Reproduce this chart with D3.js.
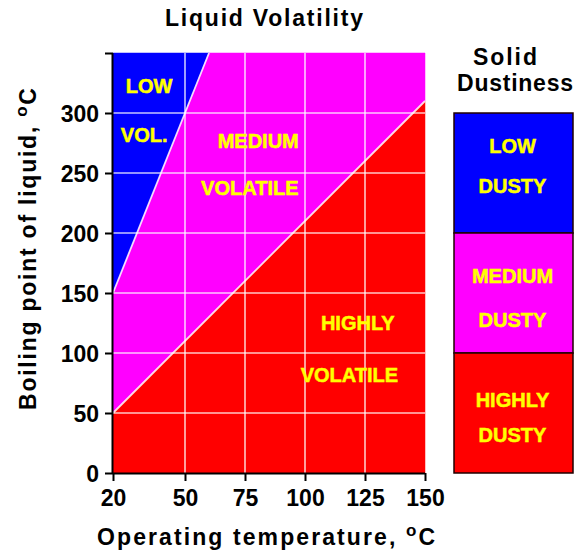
<!DOCTYPE html>
<html>
<head>
<meta charset="utf-8">
<script src="https://cdn.jsdelivr.net/npm/d3@7"></script>
<style>
  html, body { margin: 0; padding: 0; background: #ffffff; }
  svg { display: block; }
  text { font-family: "Liberation Sans", Arial, sans-serif; font-weight: bold; }
</style>
</head>
<body>
<svg id="chart" width="575" height="557"></svg>
<script>
// ---------- data ----------
const xTicks = [20, 50, 75, 100, 125, 150];
const yTicks = [0, 50, 100, 150, 200, 250, 300];
const yExtraTick = [350];
const xGrid = [50, 75, 100, 125];
const yGrid = [50, 100, 150, 200, 250, 300];
const lowMedBoundary = [[20, 150], [60, 350]];     // LOW VOL. / MEDIUM
const medHighBoundary = [[20, 50], [150, 310]];    // MEDIUM / HIGHLY
const volatilityLabels = [
  { text: "LOW", t: 35, bp: 317 },
  { text: "VOL.", t: 33, bp: 276 },
  { text: "MEDIUM", t: 80.5, bp: 271 },
  { text: "VOLATILE", t: 77, bp: 232 },
  { text: "HIGHLY", t: 122, bp: 119 },
  { text: "VOLATILE", t: 118.5, bp: 76 }
];
const dustBands = [
  { name: "LOW", from: 200, to: 300 },
  { name: "MEDIUM", from: 100, to: 200 },
  { name: "HIGHLY", from: 0, to: 100 }
];
const dustLabels = [
  { text: "LOW", bp: 267 },
  { text: "DUSTY", bp: 233 },
  { text: "MEDIUM", bp: 158 },
  { text: "DUSTY", bp: 122 },
  { text: "HIGHLY", bp: 55 },
  { text: "DUSTY", bp: 26 }
];
const levelColors = { LOW: "#0000ff", MEDIUM: "#ff00ff", HIGHLY: "#ff0000" };

// ---------- layout ----------
const svg = d3.select("#chart");
const x = d3.scaleLinear().domain([20, 150]).range([113, 425]);
const y = d3.scaleLinear().domain([0, 350]).range([473, 53]);

// region polygons from boundaries
const xmin = 20, xmax = 150, ymin = 0, ymax = 350;
const regions = [
  { name: "LOW", pts: [[xmin, lowMedBoundary[0][1]], lowMedBoundary[1], [xmin, ymax]] },
  { name: "MEDIUM", pts: [medHighBoundary[0], lowMedBoundary[0], lowMedBoundary[1], [xmax, ymax], medHighBoundary[1]] },
  { name: "HIGHLY", pts: [[xmin, ymin], medHighBoundary[0], medHighBoundary[1], [xmax, ymin]] }
];
const line = d3.line().x(d => x(d[0])).y(d => y(d[1]));

svg.append("g").selectAll("path").data(regions).join("path")
  .attr("d", d => line(d.pts) + "Z")
  .attr("fill", d => levelColors[d.name])
  .attr("stroke", d => levelColors[d.name])
  .attr("stroke-width", 0.5);

// grid
const gridColor = "rgba(255,255,255,0.78)";
svg.append("g").selectAll("line").data(xGrid).join("line")
  .attr("x1", d => x(d)).attr("x2", d => x(d))
  .attr("y1", y(ymin)).attr("y2", y(ymax))
  .attr("stroke", gridColor).attr("stroke-width", 1.6);
svg.append("g").selectAll("line").data(yGrid).join("line")
  .attr("x1", x(xmin)).attr("x2", x(xmax))
  .attr("y1", d => y(d)).attr("y2", d => y(d))
  .attr("stroke", gridColor).attr("stroke-width", 1.6);

// boundaries
svg.append("g").selectAll("path").data([lowMedBoundary, medHighBoundary]).join("path")
  .attr("d", d => line(d))
  .attr("stroke", "rgba(255,255,255,0.85)").attr("stroke-width", 1.8).attr("fill", "none");

// region labels
svg.append("g").selectAll("text").data(volatilityLabels).join("text")
  .attr("x", d => x(d.t)).attr("y", d => y(d.bp))
  .attr("text-anchor", "middle")
  .attr("font-size", 20)
  .attr("fill", "#ffff00")
  .attr("stroke", "#ffff00").attr("stroke-width", 0.5)
  .text(d => d.text);

// axes
const yAxis = d3.axisLeft(y).tickValues(yTicks.concat(yExtraTick))
  .tickFormat(d => yTicks.includes(d) ? d : "").tickSize(8).tickPadding(6);
const gy = svg.append("g").attr("transform", `translate(${x(xmin)},0)`).call(yAxis);
const xAxis = d3.axisBottom(x).tickValues(xTicks).tickSize(8).tickPadding(5);
const gx = svg.append("g").attr("transform", `translate(0,${y(ymin)})`).call(xAxis);
[gy, gx].forEach(g => {
  g.select(".domain").attr("stroke", "#000").attr("stroke-width", 2);
  g.selectAll(".tick line").attr("stroke", "#000").attr("stroke-width", 2);
  g.selectAll(".tick text").attr("fill", "#000")
    .style("font-family", '"Liberation Sans", Arial, sans-serif')
    .style("font-weight", "bold").style("font-size", "23px");
});
gy.select(".domain").attr("d", `M-0.5,${y(ymax)}V${y(ymin)}`);
gx.select(".domain").attr("d", `M${x(xmin)},0.5H${x(xmax)}`);
gy.selectAll(".tick text").attr("dy", "0.36em");
gx.selectAll(".tick text").attr("dy", "0.85em");

// titles
function labelWithDegree(sel, main) {
  sel.append("tspan").text(main);
  sel.append("tspan").attr("font-size", 17).attr("dy", -9).text("o");
  sel.append("tspan").attr("dy", 9).text("C");
}
svg.append("text").attr("x", 264).attr("y", 26).attr("text-anchor", "middle")
  .attr("font-size", 23).attr("textLength", 198).attr("lengthAdjust", "spacing")
  .text("Liquid Volatility");

const xl = svg.append("text").attr("x", 266).attr("y", 545).attr("text-anchor", "middle")
  .attr("font-size", 23).attr("textLength", 338).attr("lengthAdjust", "spacing");
labelWithDegree(xl, "Operating temperature, ");

const yl = svg.append("text").attr("transform", "translate(36,249) rotate(-90)")
  .attr("text-anchor", "middle")
  .attr("font-size", 23).attr("textLength", 322).attr("lengthAdjust", "spacing");
labelWithDegree(yl, "Boiling point of liquid, ");

// dustiness panel
const bx0 = 454, bx1 = 573;
svg.append("text").attr("x", 505).attr("y", 65).attr("text-anchor", "middle")
  .attr("font-size", 23).attr("textLength", 64).attr("lengthAdjust", "spacing").text("Solid");
svg.append("text").attr("x", 515).attr("y", 91).attr("text-anchor", "middle")
  .attr("font-size", 23).attr("textLength", 116).attr("lengthAdjust", "spacing").text("Dustiness");

svg.append("g").selectAll("rect").data(dustBands).join("rect")
  .attr("x", bx0).attr("width", bx1 - bx0)
  .attr("y", d => y(d.to)).attr("height", d => y(d.from) - y(d.to))
  .attr("fill", d => levelColors[d.name])
  .attr("stroke", "#200000").attr("stroke-width", 1.5);

svg.append("g").selectAll("text").data(dustLabels).join("text")
  .attr("x", (bx0 + bx1) / 2 - 1).attr("y", d => y(d.bp))
  .attr("text-anchor", "middle")
  .attr("font-size", 20)
  .attr("fill", "#ffff00")
  .attr("stroke", "#ffff00").attr("stroke-width", 0.5)
  .text(d => d.text);
</script>
</body>
</html>
